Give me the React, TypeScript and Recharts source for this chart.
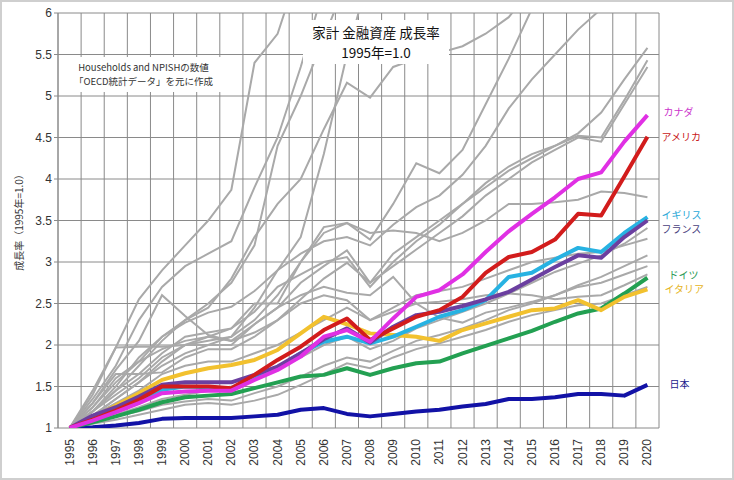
import { LineChart, Line, XAxis, YAxis, CartesianGrid, ReferenceLine } from "recharts"

const years = [1995, 1996, 1997, 1998, 1999, 2000, 2001, 2002, 2003, 2004, 2005, 2006, 2007, 2008, 2009, 2010, 2011, 2012, 2013, 2014, 2015, 2016, 2017, 2018, 2019, 2020]
const yTicks = [1, 1.5, 2, 2.5, 3, 3.5, 4, 4.5, 5, 5.5, 6]

// highlighted countries
const japan = [1.0, 1.01, 1.03, 1.06, 1.11, 1.12, 1.12, 1.12, 1.14, 1.16, 1.22, 1.24, 1.17, 1.14, 1.17, 1.2, 1.22, 1.26, 1.29, 1.35, 1.35, 1.37, 1.41, 1.41, 1.39, 1.52]
const germany = [1.0, 1.07, 1.14, 1.22, 1.31, 1.37, 1.39, 1.41, 1.48, 1.55, 1.62, 1.64, 1.72, 1.64, 1.72, 1.78, 1.8, 1.9, 1.99, 2.08, 2.17, 2.28, 2.38, 2.44, 2.62, 2.81]
const italy = [1.0, 1.12, 1.27, 1.42, 1.58, 1.66, 1.72, 1.76, 1.82, 1.94, 2.14, 2.34, 2.25, 2.14, 2.12, 2.1, 2.05, 2.18, 2.26, 2.34, 2.42, 2.44, 2.54, 2.42, 2.58, 2.67]
const uk = [1.0, 1.11, 1.22, 1.33, 1.46, 1.5, 1.49, 1.46, 1.6, 1.72, 1.9, 2.04, 2.1, 2.02, 2.1, 2.22, 2.34, 2.42, 2.54, 2.82, 2.87, 3.03, 3.17, 3.12, 3.35, 3.54]
const france = [1.0, 1.15, 1.25, 1.38, 1.52, 1.55, 1.55, 1.55, 1.64, 1.74, 1.9, 2.07, 2.2, 2.03, 2.22, 2.36, 2.4, 2.47, 2.55, 2.64, 2.79, 2.94, 3.08, 3.05, 3.3, 3.5]
const usa = [1.0, 1.1, 1.21, 1.34, 1.5, 1.5, 1.5, 1.48, 1.64, 1.82, 1.98, 2.18, 2.32, 2.06, 2.2, 2.34, 2.42, 2.58, 2.87, 3.06, 3.12, 3.27, 3.58, 3.56, 4.03, 4.51]
const canada = [1.0, 1.09, 1.19, 1.3, 1.42, 1.44, 1.45, 1.45, 1.58, 1.7, 1.86, 2.1, 2.18, 2.04, 2.32, 2.58, 2.66, 2.85, 3.12, 3.37, 3.58, 3.78, 4.0, 4.08, 4.45, 4.77]

// other OECD countries (grey)
const g1 = [1.0, 1.45, 1.97, 2.55, 2.9, 3.2, 3.5, 3.87, 5.4, 5.75, 6.6, 7.5, 8, 8.5, 9, 9.5, 10, 10.5, 11, 11.5, 12, 12.5, 13, 13.5, 14, 14.5]
const g2 = [1.0, 1.35, 1.75, 2.3, 2.7, 2.95, 3.1, 3.25, 3.9, 4.5, 5.35, 6.3, 7, 7.5, 8, 8.5, 9, 9.5, 10, 10.5, 11, 11.5, 12, 12.5, 13, 13.5]
const g3 = [1.0, 1.2, 1.45, 1.75, 2.05, 2.3, 2.5, 2.75, 3.2, 4.4, 5.0, 5.7, 6.4, 7, 7.5, 8, 8.5, 9, 9.5, 10, 10.5, 11, 11.5, 12, 12.5, 13]
const g4 = [1.0, 1.25, 1.55, 1.8, 2.1, 2.3, 2.45, 2.8, 3.3, 3.7, 4.0, 4.6, 5.16, 4.98, 5.35, 5.45, 5.52, 5.6, 5.75, 5.95, 6.3, 6.6, 7, 7.3, 7.6, 8]
const g5 = [1.0, 1.15, 1.35, 1.55, 1.75, 1.9, 2.0, 2.1, 2.45, 2.9, 3.3, 4.3, 5.5, 6.5, 7.5, 8, 8.5, 9, 9.5, 10, 10.5, 11, 11.5, 12, 12.5, 13]
const g6 = [1.0, 1.2, 1.4, 1.6, 1.85, 2.0, 2.05, 2.1, 2.3, 2.6, 3.0, 3.35, 3.47, 3.27, 3.7, 4.19, 4.07, 4.35, 4.9, 5.45, 6.05, 6.6, 7.1, 7.6, 8, 8.5]
const g7 = [1.0, 1.2, 1.5, 1.85, 2.1, 2.27, 2.39, 2.46, 2.65, 2.9, 3.1, 3.25, 3.3, 3.2, 3.45, 3.66, 3.8, 4.05, 4.4, 4.85, 5.2, 5.5, 5.8, 6.05, 6.5, 7]
const g8 = [1.0, 1.4, 1.97, 1.98, 1.98, 2.0, 2.0, 2.0, 2.25, 2.45, 2.75, 2.95, 3.14, 2.75, 3.1, 3.3, 3.5, 3.7, 3.95, 4.15, 4.3, 4.4, 4.55, 4.8, 5.2, 5.58]
const g9 = [1.0, 1.2, 1.45, 1.65, 1.9, 2.1, 2.15, 2.2, 2.4, 2.7, 2.85, 3.0, 3.06, 2.7, 3.0, 3.25, 3.45, 3.7, 3.9, 4.1, 4.25, 4.4, 4.52, 4.5, 4.95, 5.43]
const g10 = [1.0, 1.3, 1.65, 1.65, 1.67, 1.85, 1.95, 1.95, 2.1, 2.3, 2.55, 2.8, 2.99, 2.75, 2.95, 3.15, 3.35, 3.55, 3.8, 4.0, 4.2, 4.35, 4.5, 4.45, 4.9, 5.35]
const g11 = [1.0, 1.15, 1.35, 1.55, 1.8, 2.0, 2.1, 2.2, 2.5, 2.5, 3.0, 3.42, 3.47, 3.35, 3.38, 3.35, 3.25, 3.35, 3.5, 3.7, 3.7, 3.72, 3.75, 3.85, 3.83, 3.78]
const g12 = [1.0, 1.3, 1.7, 2.05, 2.6, 2.35, 2.12, 2.05, 2.25, 2.45, 2.6, 2.7, 2.63, 2.6, 2.82, 2.5, 2.33, 2.27, 2.39, 2.45, 2.52, 2.6, 2.7, 2.75, 2.85, 2.95]
const g13 = [1.0, 1.08, 1.16, 1.25, 1.35, 1.4, 1.45, 1.5, 1.6, 1.72, 1.85, 2.0, 2.1, 1.95, 2.05, 2.2, 2.3, 2.4, 2.5, 2.62, 2.75, 2.88, 2.98, 3.08, 3.22, 3.41]
const g14 = [1.0, 1.07, 1.14, 1.2, 1.28, 1.32, 1.35, 1.33, 1.42, 1.5, 1.62, 1.75, 1.85, 1.8, 1.93, 2.05, 2.12, 2.2, 2.3, 2.42, 2.5, 2.6, 2.72, 2.82, 2.95, 3.08]
const g15 = [1.0, 1.05, 1.1, 1.16, 1.22, 1.28, 1.3, 1.28, 1.33, 1.4, 1.52, 1.65, 1.78, 1.72, 1.85, 1.95, 2.02, 2.1, 2.18, 2.28, 2.36, 2.42, 2.48, 2.5, 2.6, 2.7]
const g16 = [1.0, 1.25, 1.6, 1.8, 1.95, 2.05, 2.1, 2.05, 2.15, 2.3, 2.5, 2.6, 2.54, 2.3, 2.4, 2.5, 2.52, 2.55, 2.6, 2.62, 2.6, 2.55, 2.58, 2.6, 2.72, 2.85]
const g17 = [1.0, 1.15, 1.3, 1.45, 1.65, 1.75, 1.8, 1.8, 1.9, 2.0, 2.15, 2.3, 2.45, 2.3, 2.45, 2.6, 2.65, 2.7, 2.8, 2.9, 3.0, 3.05, 3.1, 3.12, 3.2, 3.28]

const greys = [g1, g2, g3, g4, g5, g6, g7, g8, g9, g10, g11, g12, g13, g14, g15, g16, g17]

const countries = [
  { key: "japan", name: "日本", values: japan, color: "#1212a6", labelColor: "#1a1a8c", dx: 22, dy: -1 },
  { key: "germany", name: "ドイツ", values: germany, color: "#23a052", labelColor: "#2a9a55", dx: 21, dy: -3 },
  { key: "italy", name: "イタリア", values: italy, color: "#f2c12e", labelColor: "#e6b422", dx: 17, dy: -1 },
  { key: "uk", name: "イギリス", values: uk, color: "#27b2e2", labelColor: "#2aa8d8", dx: 14, dy: -3 },
  { key: "france", name: "フランス", values: france, color: "#6b3fa0", labelColor: "#4a3f80", dx: 14, dy: 8 },
  { key: "usa", name: "アメリカ", values: usa, color: "#d21c1c", labelColor: "#c81818", dx: 14, dy: 0 },
  { key: "canada", name: "カナダ", values: canada, color: "#e030e4", labelColor: "#cc33cc", dx: 16, dy: -4 },
]

const data = years.map((year, i) => {
  const row: Record<string, number> = { i, year }
  countries.forEach((c) => { row[c.key] = c.values[i] })
  greys.forEach((g, n) => { row[`g${n}`] = g[i] })
  return row
})

const idx = years.map((_, i) => i)
const bounds = [...idx.map((i) => i - 0.5), years.length - 0.5]

const jpFont = "'Noto Sans CJK JP', sans-serif"
const numFont = "'Liberation Sans', Arial, sans-serif"

function YearTick({ x, y, payload }: any) {
  const ty = y + 3
  return (
    <text
      x={x}
      y={ty}
      dy={4}
      transform={`rotate(-90, ${x}, ${ty})`}
      textAnchor="end"
      fontSize={12}
      fontFamily={numFont}
      fill="#333"
    >
      {years[payload.value]}
    </text>
  )
}

function endLabel(c: typeof countries[number]) {
  return (props: any) => {
    const { x, y, index } = props
    if (index !== years.length - 1) return null
    return (
      <text
        x={x + c.dx}
        y={y + c.dy}
        dominantBaseline="central"
        fontSize={10}
        fontFamily={jpFont}
        fill={c.labelColor}
      >
        {c.name}
      </text>
    )
  }
}

export default function App() {
  return (
    <div style={{ position: "absolute", left: 0, top: 0, width: 734, height: 480, background: "#fff" }}>
      <LineChart width={734} height={480} data={data} margin={{ top: 13, right: 75, bottom: 0, left: 0 }}>
        <CartesianGrid vertical={false} stroke="#8a8a8a" />
        {bounds.map((b) => (
          <ReferenceLine key={b} x={b} stroke="#8a8a8a" strokeWidth={1} />
        ))}
        <XAxis
          dataKey="i"
          type="number"
          domain={[-0.5, years.length - 0.5]}
          ticks={idx}
          interval={0}
          allowDataOverflow
          tick={<YearTick />}
          tickLine={false}
          axisLine={false}
          height={52}
        />
        <YAxis
          domain={[1, 6]}
          ticks={yTicks}
          allowDataOverflow
          width={58}
          tickSize={4}
          tickLine={{ stroke: "#8a8a8a" }}
          axisLine={{ stroke: "#8a8a8a" }}
          tick={{ fontSize: 12, fill: "#333", fontFamily: numFont }}
        />
        {greys.map((_, n) => (
          <Line
            key={`g${n}`}
            dataKey={`g${n}`}
            stroke="#a9a9a9"
            strokeWidth={2}
            dot={false}
            isAnimationActive={false}
          />
        ))}
        {countries.map((c) => (
          <Line
            key={c.key}
            dataKey={c.key}
            stroke={c.color}
            strokeWidth={4}
            strokeLinejoin="round"
            dot={false}
            label={endLabel(c)}
            isAnimationActive={false}
          />
        ))}
      </LineChart>

      {/* title */}
      <div
        style={{
          position: "absolute", left: 303, top: 20, width: 146, height: 44, background: "#fff",
          fontFamily: jpFont, fontSize: 13.5, lineHeight: "20px", color: "#111", textAlign: "center",
          paddingTop: 2, boxSizing: "border-box",
        }}
      >
        <div>家計 金融資産 成長率</div>
        <div>1995年=1.0</div>
      </div>

      {/* note */}
      <div
        style={{
          position: "absolute", left: 65, top: 57, width: 157, height: 35, background: "#fff",
          fontFamily: jpFont, fontSize: 9.5, lineHeight: "14px", color: "#333", textAlign: "center",
          paddingTop: 3, boxSizing: "border-box",
        }}
      >
        <div>Households and NPISHの数値</div>
        <div>「OECD統計データ」を元に作成</div>
      </div>

      {/* y axis title */}
      <div
        style={{
          position: "absolute", left: 18, top: 220, transform: "translate(-50%, -50%) rotate(-90deg)",
          whiteSpace: "nowrap", fontFamily: jpFont, fontSize: 10, color: "#333",
        }}
      >
        成長率（1995年=1.0）
      </div>

      {/* frame */}
      <div
        style={{
          position: "absolute", left: 0, top: 0, width: 734, height: 480, boxSizing: "border-box",
          border: "2px solid #cfcfcf", pointerEvents: "none",
        }}
      />
    </div>
  )
}
